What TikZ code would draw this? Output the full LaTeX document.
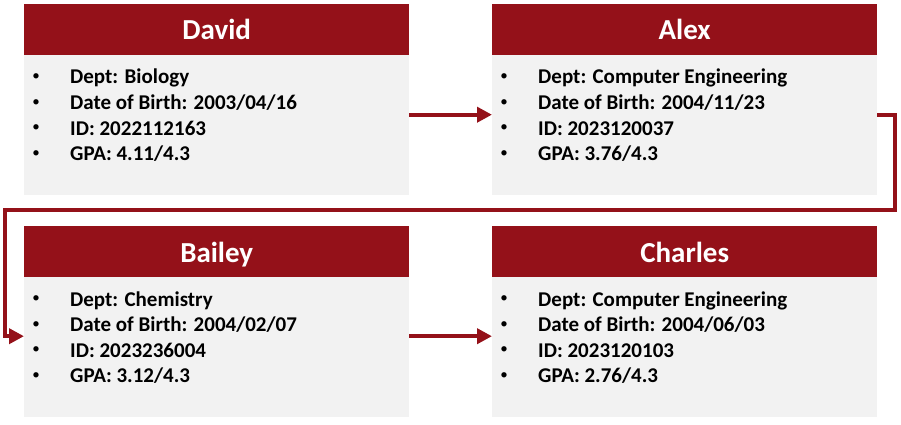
\documentclass[tikz,border=0pt]{standalone}
\usepackage{fontspec}
\setmainfont{Carlito}
\usetikzlibrary{arrows.meta,calc}
\definecolor{hdrred}{HTML}{941119}
\definecolor{bodygray}{HTML}{F2F2F2}
\tikzset{
  hdr/.style={fill=hdrred,draw=none,minimum width=385pt,minimum height=51pt,inner sep=0pt,anchor=north west},
  bodybox/.style={fill=bodygray,draw=none,minimum width=385pt,minimum height=140pt,inner sep=0pt,anchor=north west},
  title/.style={text=white,font=\bfseries\fontsize{29}{34}\selectfont,inner sep=0pt,anchor=base},
  item/.style={font=\bfseries\fontsize{21}{25}\selectfont,inner sep=0pt,anchor=base west},
  dot/.style={font=\fontsize{15}{18}\selectfont,inner sep=0pt,anchor=center},
  conn/.style={draw=hdrred,line width=4pt,-{Triangle[length=15pt,width=15pt]}}
}
\newcommand{\mycard}[8]{%
  \node[hdr] (#1h) at (#2,#3) {};
  \node[bodybox] (#1b) at (#2,#3+51) {};
  \node[title] (#1t) at ($(#1h.north)+(0,-36pt)$) {#4};
  \foreach \txt [count=\i] in {#5,#6,#7,#8} {
    \node[dot] (#1d\i) at ($(#1b.north west)+(12pt,{-22pt-(\i-1)*25.6pt})$) {•};
    \node[item] (#1l\i) at ($(#1b.north west)+(46pt,{-29pt-(\i-1)*25.6pt})$) {\txt};
  }
}
\begin{document}
\begin{tikzpicture}[x=1pt,y=-1pt]
\useasboundingbox (0,0) rectangle (901,425);
\mycard{dv}{24}{4}{David}{Dept: Biology}{Date of Birth: 2003/04/16}{ID: 2022112163}{GPA: 4.11/4.3}
\mycard{ax}{492}{4}{Alex}{Dept: Computer Engineering}{Date of Birth: 2004/11/23}{ID: 2023120037}{GPA: 3.76/4.3}
\mycard{bl}{24}{226}{Bailey}{Dept: Chemistry}{Date of Birth: 2004/02/07}{ID: 2023236004}{GPA: 3.12/4.3}
\mycard{ch}{492}{226}{Charles}{Dept: Computer Engineering}{Date of Birth: 2004/06/03}{ID: 2023120103}{GPA: 2.76/4.3}
\coordinate (r1) at (895,210);
\coordinate (l1) at (5,210);
\draw[conn] ([yshift=10.5pt]dvb.east) -- ([yshift=10.5pt]axb.west);
\draw[conn] ([yshift=10.5pt]axb.east) -| (r1) -- (l1) |- ([yshift=11pt]blb.west);
\draw[conn] ([yshift=11pt]blb.east) -- ([yshift=11pt]chb.west);
\end{tikzpicture}
\end{document}
